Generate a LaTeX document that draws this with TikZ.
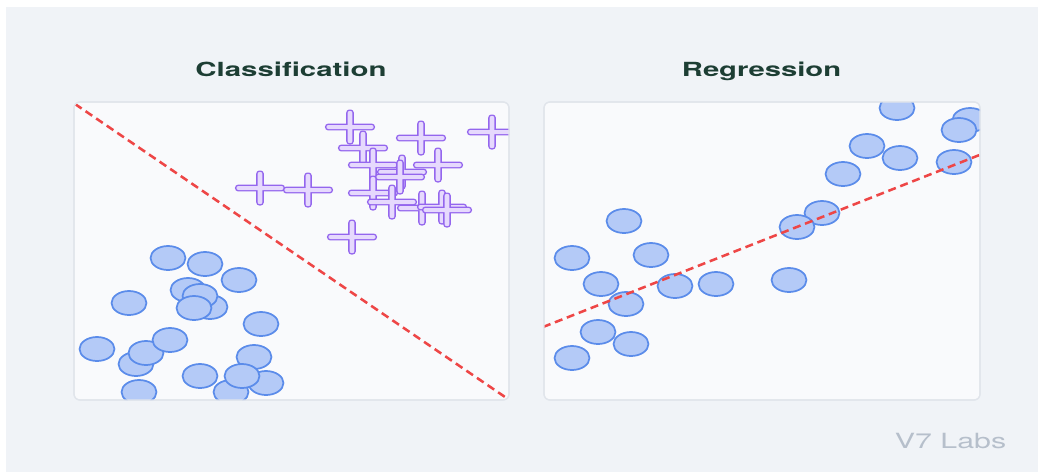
\documentclass[tikz,border=0pt]{standalone}
\usepackage{fontspec}
\setmainfont{TeX Gyre Heros}
\usepackage{graphicx}

\definecolor{panelbg}{HTML}{F0F3F7}
\definecolor{cardfill}{HTML}{F9FAFC}
\definecolor{cardline}{HTML}{E1E5EB}
\definecolor{dotfill}{HTML}{B4CAF7}
\definecolor{dotline}{HTML}{5B8CEA}
\definecolor{plusfill}{HTML}{E6D9FD}
\definecolor{plusline}{HTML}{9466EE}
\definecolor{fitred}{HTML}{EE4646}
\definecolor{titlegreen}{HTML}{1D3E34}
\definecolor{brandgrey}{HTML}{B6BFCB}

\tikzset{
  cardbox/.style={fill=cardfill, draw=cardline, line width=0.9pt, rounded corners=4.5pt},
  cardedge/.style={draw=cardline, line width=0.9pt, rounded corners=4.5pt},
  dot/.style={fill=dotfill, draw=dotline, line width=1.3pt},
  plusrim/.style={draw=plusline, line width=2.1pt, rounded corners=1.5pt},
  plusbody/.style={fill=plusfill, rounded corners=1.5pt},
  fitline/.style={draw=fitred, line width=1.9pt, dash pattern=on 6pt off 3.6pt},
  heading/.style={font=\fontsize{14.6}{17}\selectfont\bfseries, text=titlegreen, anchor=base, inner sep=0pt},
  brand/.style={font=\fontsize{15.7}{18}\selectfont, text=brandgrey, anchor=base, inner sep=0pt},
  % a plus sign: outline of both bars first, then their fill on top,
  % so the crossing of the bars shows no inner lines
  pics/plusmark/.style={code={
    \path[plusrim] (-23.6,-2) rectangle (23.6,2) (-2.4,-16.1) rectangle (2.4,16.1);
    \path[plusbody] (-23.6,-2) rectangle (23.6,2) (-2.4,-16.1) rectangle (2.4,16.1);
  }}
}

\newcommand\blob[2]{\path[dot] (#1,#2) ellipse [x radius=13.1pt, y radius=9pt];}

\begin{document}
\begin{tikzpicture}[x=0.75pt, y=-0.75pt]
\useasboundingbox (0,0) rectangle (1038,472);
\fill[white] (0,0) rectangle (1038,472);
\fill[panelbg] (6,7) rectangle (1038,472);

% card corners
\coordinate (lnw) at (74,102);
\coordinate (lse) at (509,400);
\coordinate (rnw) at (544,102);
\coordinate (rse) at (980,400);

% headings
\node[heading] (clshead) at (291,76) {\scalebox{1.51}[1]{Classification}};
\node[heading] (reghead) at (761.5,76) {\scalebox{1.5}[1]{Regression}};
\node[brand] (brandmark) at (950.5,448) {\scalebox{1.45}[1]{V7 Labs}};

% ---- classification card ----
\path[cardbox] (lnw) rectangle (lse);
\begin{scope}
  \clip[rounded corners=4.5pt] (lnw) rectangle (lse);
  \blob{168}{258}\blob{205}{264}\blob{239}{280}\blob{129}{303}
  \blob{188}{290}\blob{210}{307}\blob{200}{296}\blob{194}{308}
  \blob{261}{324}\blob{97}{349}\blob{136}{364}\blob{146}{353}
  \blob{170}{340}\blob{254}{357}\blob{200}{376}\blob{139}{392}
  \blob{231}{392}\blob{266}{383}\blob{242}{376}
  \foreach \px/\py in {350/127, 421/138, 492/132, 363/148, 373/165,
      438/165, 402/172, 400/177, 373/193, 392/202, 422/208, 442/207,
      447/210, 260/188, 308/190, 352/237}
    \pic at (\px,\py) {plusmark};
  \coordinate (lfa) at (75,104);
  \coordinate (lfb) at (508,399);
  \draw[fitline] (lfa) -- (lfb);
\end{scope}
\path[cardedge] (lnw) rectangle (lse);

% ---- regression card ----
\path[cardbox] (rnw) rectangle (rse);
\begin{scope}
  \clip[rounded corners=4.5pt] (rnw) rectangle (rse);
  \blob{897}{108}\blob{970}{120}\blob{959}{130}\blob{867}{146}
  \blob{900}{158}\blob{954}{162}\blob{843}{174}\blob{822}{213}
  \blob{797}{227}\blob{624}{221}\blob{572}{258}\blob{651}{255}
  \blob{601}{284}\blob{675}{286}\blob{716}{284}\blob{789}{280}
  \blob{626}{304}\blob{598}{332}\blob{631}{344}\blob{572}{358}
  \coordinate (rfa) at (543,327);
  \coordinate (rfb) at (982,154);
  \draw[fitline] (rfa) -- (rfb);
\end{scope}
\path[cardedge] (rnw) rectangle (rse);
\end{tikzpicture}
\end{document}
